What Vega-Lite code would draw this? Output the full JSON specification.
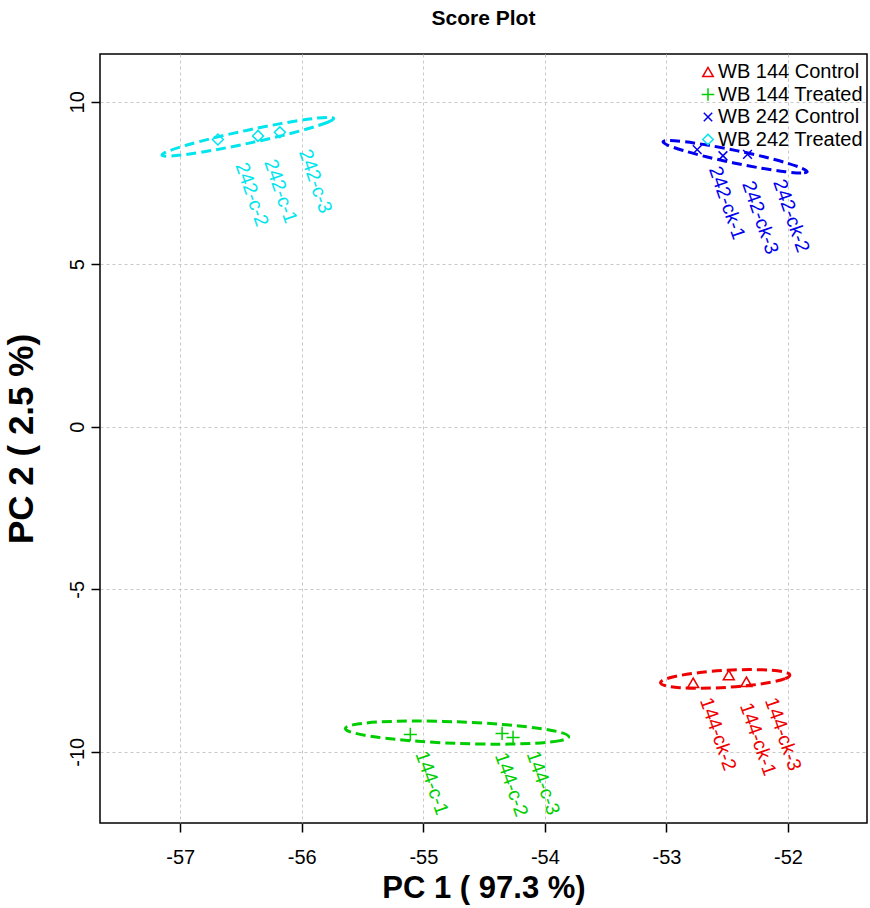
{
  "$schema": "https://vega.github.io/schema/vega-lite/v6.json",
  "width": 767,
  "height": 769,
  "autosize": "none",
  "padding": {"left": 100, "top": 54, "right": 3, "bottom": 85},
  "background": "white",
  "title": {"text": "Score Plot", "fontSize": 21, "fontWeight": "bold", "font": "Liberation Sans", "anchor": "middle", "offset": 25, "color": "black"},
  "config": {
    "font": "Liberation Sans",
    "view": {"stroke": "black", "strokeWidth": 1.5},
    "axis": {"grid": true, "gridColor": "#C8C8C8", "gridDash": [3, 3], "gridWidth": 1, "domain": false, "tickColor": "black", "tickSize": 9, "tickWidth": 1.5, "labelFontSize": 20, "labelColor": "black", "titleFontWeight": "bold", "titleColor": "black", "labelFont": "Liberation Sans", "titleFont": "Liberation Sans", "labelExpr": "'' + datum.value"}
  },
  "resolve": {"legend": {"color": "independent", "shape": "independent"}},
  "datasets": {
    "pts": [
      {"group": "WB 242 Treated", "x": -56.69, "y": 8.84, "label": "242-c-2", "lx": -56.50, "ly": 8.105},
      {"group": "WB 242 Treated", "x": -56.36, "y": 8.95, "label": "242-c-1", "lx": -56.265, "ly": 8.206},
      {"group": "WB 242 Treated", "x": -56.18, "y": 9.06, "label": "242-c-3", "lx": -55.979, "ly": 8.514},
      {"group": "WB 242 Control", "x": -52.747, "y": 8.53, "label": "242-ck-1", "lx": -52.605, "ly": 7.991},
      {"group": "WB 242 Control", "x": -52.535, "y": 8.34, "label": "242-ck-3", "lx": -52.331, "ly": 7.538},
      {"group": "WB 242 Control", "x": -52.333, "y": 8.38, "label": "242-ck-2", "lx": -52.076, "ly": 7.591},
      {"group": "WB 144 Treated", "x": -55.107, "y": -9.465, "label": "144-c-1", "lx": -55.019, "ly": -10.0},
      {"group": "WB 144 Treated", "x": -54.352, "y": -9.434, "label": "144-c-2", "lx": -54.366, "ly": -10.049},
      {"group": "WB 144 Treated", "x": -54.262, "y": -9.557, "label": "144-c-3", "lx": -54.105, "ly": -10.0},
      {"group": "WB 144 Control", "x": -52.78, "y": -7.877, "label": "144-ck-2", "lx": -52.679, "ly": -8.357},
      {"group": "WB 144 Control", "x": -52.487, "y": -7.64, "label": "144-ck-1", "lx": -52.35, "ly": -8.511},
      {"group": "WB 144 Control", "x": -52.342, "y": -7.846, "label": "144-ck-3", "lx": -52.144, "ly": -8.357}
    ],
    "ell": [
      {"group": "WB 242 Treated", "i": 0, "x": -55.738, "y": 9.488},
      {"group": "WB 242 Treated", "i": 1, "x": -55.787, "y": 9.370},
      {"group": "WB 242 Treated", "i": 2, "x": -55.937, "y": 9.184},
      {"group": "WB 242 Treated", "i": 3, "x": -56.163, "y": 8.958},
      {"group": "WB 242 Treated", "i": 4, "x": -56.433, "y": 8.727},
      {"group": "WB 242 Treated", "i": 5, "x": -56.704, "y": 8.526},
      {"group": "WB 242 Treated", "i": 6, "x": -56.936, "y": 8.386},
      {"group": "WB 242 Treated", "i": 7, "x": -57.092, "y": 8.327},
      {"group": "WB 242 Treated", "i": 8, "x": -57.150, "y": 8.358},
      {"group": "WB 242 Treated", "i": 9, "x": -57.101, "y": 8.476},
      {"group": "WB 242 Treated", "i": 10, "x": -56.951, "y": 8.662},
      {"group": "WB 242 Treated", "i": 11, "x": -56.725, "y": 8.888},
      {"group": "WB 242 Treated", "i": 12, "x": -56.455, "y": 9.119},
      {"group": "WB 242 Treated", "i": 13, "x": -56.184, "y": 9.320},
      {"group": "WB 242 Treated", "i": 14, "x": -55.953, "y": 9.461},
      {"group": "WB 242 Treated", "i": 15, "x": -55.796, "y": 9.520},
      {"group": "WB 242 Control", "i": 0, "x": -51.842, "y": 7.847},
      {"group": "WB 242 Control", "i": 1, "x": -51.892, "y": 7.809},
      {"group": "WB 242 Control", "i": 2, "x": -52.023, "y": 7.848},
      {"group": "WB 242 Control", "i": 3, "x": -52.218, "y": 7.956},
      {"group": "WB 242 Control", "i": 4, "x": -52.446, "y": 8.118},
      {"group": "WB 242 Control", "i": 5, "x": -52.672, "y": 8.309},
      {"group": "WB 242 Control", "i": 6, "x": -52.862, "y": 8.500},
      {"group": "WB 242 Control", "i": 7, "x": -52.987, "y": 8.662},
      {"group": "WB 242 Control", "i": 8, "x": -53.028, "y": 8.770},
      {"group": "WB 242 Control", "i": 9, "x": -52.978, "y": 8.807},
      {"group": "WB 242 Control", "i": 10, "x": -52.847, "y": 8.769},
      {"group": "WB 242 Control", "i": 11, "x": -52.652, "y": 8.660},
      {"group": "WB 242 Control", "i": 12, "x": -52.424, "y": 8.498},
      {"group": "WB 242 Control", "i": 13, "x": -52.198, "y": 8.307},
      {"group": "WB 242 Control", "i": 14, "x": -52.009, "y": 8.116},
      {"group": "WB 242 Control", "i": 15, "x": -51.884, "y": 7.954},
      {"group": "WB 144 Treated", "i": 0, "x": -53.804, "y": -9.538},
      {"group": "WB 144 Treated", "i": 1, "x": -53.875, "y": -9.656},
      {"group": "WB 144 Treated", "i": 2, "x": -54.076, "y": -9.735},
      {"group": "WB 144 Treated", "i": 3, "x": -54.374, "y": -9.765},
      {"group": "WB 144 Treated", "i": 4, "x": -54.726, "y": -9.741},
      {"group": "WB 144 Treated", "i": 5, "x": -55.078, "y": -9.666},
      {"group": "WB 144 Treated", "i": 6, "x": -55.375, "y": -9.553},
      {"group": "WB 144 Treated", "i": 7, "x": -55.573, "y": -9.417},
      {"group": "WB 144 Treated", "i": 8, "x": -55.642, "y": -9.280},
      {"group": "WB 144 Treated", "i": 9, "x": -55.571, "y": -9.163},
      {"group": "WB 144 Treated", "i": 10, "x": -55.370, "y": -9.083},
      {"group": "WB 144 Treated", "i": 11, "x": -55.072, "y": -9.053},
      {"group": "WB 144 Treated", "i": 12, "x": -54.720, "y": -9.077},
      {"group": "WB 144 Treated", "i": 13, "x": -54.368, "y": -9.152},
      {"group": "WB 144 Treated", "i": 14, "x": -54.071, "y": -9.266},
      {"group": "WB 144 Treated", "i": 15, "x": -53.873, "y": -9.401},
      {"group": "WB 144 Control", "i": 0, "x": -51.985, "y": -7.639},
      {"group": "WB 144 Control", "i": 1, "x": -52.024, "y": -7.747},
      {"group": "WB 144 Control", "i": 2, "x": -52.138, "y": -7.858},
      {"group": "WB 144 Control", "i": 3, "x": -52.310, "y": -7.953},
      {"group": "WB 144 Control", "i": 4, "x": -52.513, "y": -8.018},
      {"group": "WB 144 Control", "i": 5, "x": -52.717, "y": -8.044},
      {"group": "WB 144 Control", "i": 6, "x": -52.890, "y": -8.025},
      {"group": "WB 144 Control", "i": 7, "x": -53.007, "y": -7.967},
      {"group": "WB 144 Control", "i": 8, "x": -53.049, "y": -7.876},
      {"group": "WB 144 Control", "i": 9, "x": -53.010, "y": -7.767},
      {"group": "WB 144 Control", "i": 10, "x": -52.896, "y": -7.656},
      {"group": "WB 144 Control", "i": 11, "x": -52.725, "y": -7.561},
      {"group": "WB 144 Control", "i": 12, "x": -52.521, "y": -7.496},
      {"group": "WB 144 Control", "i": 13, "x": -52.317, "y": -7.470},
      {"group": "WB 144 Control", "i": 14, "x": -52.144, "y": -7.489},
      {"group": "WB 144 Control", "i": 15, "x": -52.027, "y": -7.548}
    ]
  },
  "layer": [
    {
      "data": {"name": "ell"},
      "mark": {"type": "line", "interpolate": "cardinal-closed", "strokeWidth": 3, "strokeDash": [10, 5], "clip": true},
      "encoding": {
        "x": {"field": "x", "type": "quantitative", "scale": {"domain": [-57.66, -51.35], "nice": false, "zero": false}, "axis": {"values": [-57, -56, -55, -54, -53, -52], "title": "PC 1 ( 97.3 %)", "titleFontSize": 31, "titlePadding": 6, "labelPadding": 15}},
        "y": {"field": "y", "type": "quantitative", "scale": {"domain": [-12.19, 11.47], "nice": false, "zero": false}, "axis": {"values": [-10, -5, 0, 5, 10], "title": "PC 2 ( 2.5 %)", "titleFontSize": 35, "labelAngle": 270, "labelAlign": "center", "labelBaseline": "bottom", "labelPadding": 4, "titlePadding": 28}},
        "detail": {"field": "group"},
        "order": {"field": "i", "type": "quantitative"},
        "color": {"field": "group", "type": "nominal", "legend": null}
      }
    },
    {
      "data": {"name": "pts"},
      "mark": {"type": "point", "filled": false, "strokeWidth": 1.5, "size": 120, "opacity": 1},
      "encoding": {
        "x": {"field": "x", "type": "quantitative"},
        "y": {"field": "y", "type": "quantitative"},
        "color": {"field": "group", "type": "nominal", "scale": {"domain": ["WB 144 Control", "WB 144 Treated", "WB 242 Control", "WB 242 Treated"], "range": ["#EE0000", "#00CD00", "#0000EE", "#00E5EE"]},
          "legend": {"title": null, "orient": "none", "legendX": 598, "legendY": 8, "labelFontSize": 20, "labelColor": "black", "labelFont": "Liberation Sans", "symbolSize": 110, "symbolStrokeWidth": 1.5, "rowPadding": 2.5, "labelOffset": 0, "padding": 0}},
        "shape": {"field": "group", "type": "nominal", "scale": {"domain": ["WB 144 Control", "WB 144 Treated", "WB 242 Control", "WB 242 Treated"], "range": ["triangle-up", "M-1.2,0H1.2M0,-1.2V1.2", "M-0.8,-0.8L0.8,0.8M-0.8,0.8L0.8,-0.8", "diamond"]},
          "legend": {"title": null, "orient": "none", "legendX": 598, "legendY": 8, "labelFontSize": 20, "labelColor": "black", "labelFont": "Liberation Sans", "symbolSize": 110, "symbolStrokeWidth": 1.5, "rowPadding": 2.5, "labelOffset": 0, "padding": 0}}
      }
    },
    {
      "data": {"name": "pts"},
      "mark": {"type": "text", "angle": 71, "align": "left", "baseline": "middle", "fontSize": 19.5, "font": "Liberation Sans"},
      "encoding": {
        "x": {"field": "lx", "type": "quantitative"},
        "y": {"field": "ly", "type": "quantitative"},
        "text": {"field": "label"},
        "color": {"field": "group", "type": "nominal", "legend": null}
      }
    }
  ]
}
